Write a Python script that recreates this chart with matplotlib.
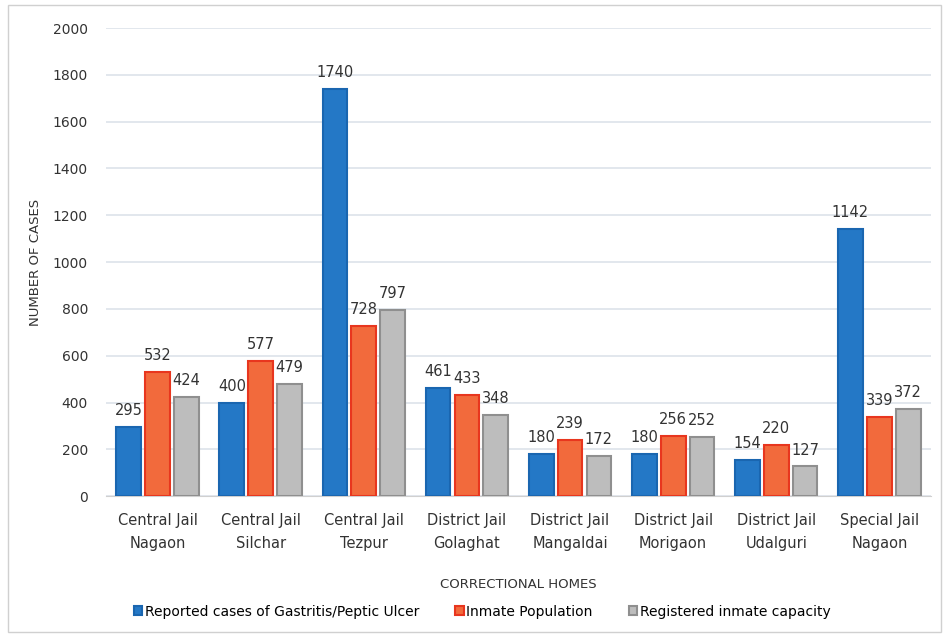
import matplotlib.pyplot as plt
import numpy as np
from matplotlib.patches import Rectangle

# Datos
homes = ['Central Jail\nNagaon', 'Central Jail\nSilchar', 'Central Jail\nTezpur',
         'District Jail\nGolaghat', 'District Jail\nMangaldai', 'District Jail\nMorigaon',
         'District Jail\nUdalguri', 'Special Jail\nNagaon']
gastritis = [295, 400, 1740, 461, 180, 180, 154, 1142]
population = [532, 577, 728, 433, 239, 256, 220, 339]
capacity = [424, 479, 797, 348, 172, 252, 127, 372]

series = [
    (gastritis, 'Reported cases of Gastritis/Peptic Ulcer', '#2478c6', '#1a66b0'),
    (population, 'Inmate Population', '#f26a3c', '#e8361e'),
    (capacity, 'Registered inmate capacity', '#bdbdbd', '#8f8f8f'),
]

fig = plt.figure(figsize=(9.47, 6.37), dpi=100)
ax = fig.add_axes([0.112, 0.221, 0.871, 0.735])
fig.patches.append(Rectangle((0.008, 0.008), 0.986, 0.984, transform=fig.transFigure,
                             fill=False, edgecolor='#d0d0d0', linewidth=1))

x = np.arange(len(homes))
w = 0.24
step = 0.28
for i, (vals, lab, fc, ec) in enumerate(series):
    pos = x + (i - 1) * step
    ax.bar(pos, vals, width=w, color=fc, edgecolor=ec, linewidth=1.5, label=lab, zorder=3)
    for p, v in zip(pos, vals):
        ax.text(p, v + 38, str(v), ha='center', va='bottom', fontsize=10.5, color='#333333')

ax.set_ylim(0, 2000)
ax.set_xlim(-0.5, len(homes) - 0.5)
ax.set_yticks(np.arange(0, 2001, 200))
ax.set_xticks(x)
ax.set_xticklabels(homes, fontsize=10.5, color='#333333', linespacing=1.65)
ax.tick_params(axis='y', labelsize=10, colors='#333333', length=0, pad=13)
ax.tick_params(axis='x', length=0, pad=12)
ax.grid(axis='y', color='#dde3ea', linewidth=1.2, zorder=0)
for s in ['top', 'right', 'left']:
    ax.spines[s].set_visible(False)
ax.spines['bottom'].set_color('#d0d0d0')

ax.set_ylabel('NUMBER OF CASES', fontsize=9.5, color='#333333', labelpad=8)
ax.set_xlabel('CORRECTIONAL HOMES', fontsize=9.5, color='#333333', labelpad=20)

ax.legend(loc='upper center', bbox_to_anchor=(0.456, -0.205), ncol=3, frameon=False,
          fontsize=10, handlelength=0.6, handleheight=0.6, handletextpad=0.2,
          columnspacing=2.6)

fig.savefig('out.png', dpi=100)
